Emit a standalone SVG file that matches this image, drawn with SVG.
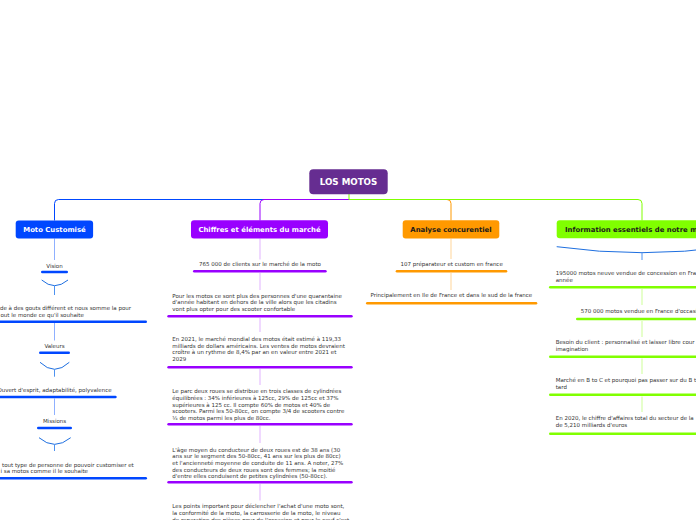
<svg xmlns="http://www.w3.org/2000/svg" width="696" height="520" viewBox="0 0 696 520">
<style>
.t{font-family:"DejaVu Sans",Verdana,sans-serif;font-size:5.5px;fill:#333}
.m{text-anchor:middle}
.h{font-family:"DejaVu Sans",Verdana,sans-serif;font-size:6.9px;font-weight:bold;text-anchor:middle}
.w{fill:#fff}.d{fill:#1a1a1a}
.cb{stroke:#0047ff;fill:none;stroke-width:1}
.cp{stroke:#9900ff;fill:none;stroke-width:1}
.co{stroke:#ff9900;fill:none;stroke-width:1}
.cg{stroke:#80ff00;fill:none;stroke-width:1}
.lb{stroke:#8fb0ff;stroke-width:1}
.lp{stroke:#e6c0ff;stroke-width:1.2}
.lo{stroke:#ffd599;stroke-width:1}
.lg{stroke:#d5ffa8;stroke-width:1.2}
.arc{stroke:#1e6fe0;fill:none;stroke-width:1}
.stub{stroke:#4d92f0;stroke-width:1}
.bb{fill:#0047ff}.bp{fill:#9900ff}.bo{fill:#ff9900}.bg{fill:#80ff00}
</style>
<rect width="696" height="520" fill="#fff"/>
<g id="connectors">
<path class="cb" d="M349,199.5 H58.5 Q54.5,199.5 54.5,203.5 V220.5"/>
<path class="cp" d="M349,199.5 H264 Q260,199.5 260,203.5 V220.5"/>
<path class="co" d="M349,199.5 H447 Q451,199.5 451,203.5 V220.5"/>
<path class="cg" d="M349,199.5 H638 Q642,199.5 642,203.5 V220.5"/>
<line class="cg" x1="349" y1="194" x2="349" y2="199.5"/>
<line class="lb" x1="54.5" y1="238.5" x2="54.5" y2="260"/>
<path class="arc" d="M41.7,280 Q54.5,291.4 68,280"/>
<line class="stub" x1="54.5" y1="285.7" x2="54.5" y2="295"/>
<line class="lb" x1="54.5" y1="323" x2="54.5" y2="340.5"/>
<path class="arc" d="M40,362.3 Q54.5,376.3 69.3,362.3"/>
<line class="stub" x1="54.5" y1="369.3" x2="54.5" y2="376.7"/>
<line class="lb" x1="54.5" y1="398.5" x2="54.5" y2="415"/>
<path class="arc" d="M39,437.7 Q54.5,451 70.7,437.7"/>
<line class="stub" x1="54.5" y1="444.3" x2="54.5" y2="451"/>
<line class="lp" x1="260" y1="238.6" x2="260" y2="259.5"/>
<line class="lp" x1="260" y1="273" x2="260" y2="290"/>
<line class="lp" x1="260" y1="318" x2="260" y2="332"/>
<line class="lp" x1="260" y1="369" x2="260" y2="385"/>
<line class="lp" x1="260" y1="426" x2="260" y2="443"/>
<line class="lp" x1="260" y1="484" x2="260" y2="500.5"/>
<line class="lo" x1="451" y1="238.6" x2="451" y2="259"/>
<line class="lo" x1="451" y1="273" x2="451" y2="290"/>
<path class="arc" d="M556.7,246.7 Q642,258.7 727.3,246.7"/>
<line class="stub" x1="642" y1="252.7" x2="642" y2="260"/>
<line class="lg" x1="642" y1="289" x2="642" y2="305"/>
<line class="lg" x1="642" y1="321" x2="642" y2="337"/>
<line class="lg" x1="642" y1="358.5" x2="642" y2="374"/>
<line class="lg" x1="642" y1="396.5" x2="642" y2="412"/>
</g>
<g id="root">
<rect x="309.3" y="169.2" width="78.4" height="25.1" rx="4" fill="#662d91"/>
<text class="h w" x="348.5" y="184.9" style="font-size:8.7px">LOS MOTOS</text>
</g>
<g id="moto-customise">
<rect x="15.7" y="220.5" width="77.4" height="18" rx="3" fill="#0047ff"/>
<text class="h w" x="54.5" y="232.1">Moto Customisé</text>
</g>
<g id="vision">
<text class="t m" x="54.5" y="267.8">Vision</text>
<rect class="bb" x="41" y="270.7" width="27" height="2.6" rx="1.3"/>
</g>
<g id="vision-text">
<text class="t" x="0" y="310">de à des gouts différent et nous somme la pour</text>
<text class="t" x="0.5" y="316.7">out le monde ce qu'il souhaite</text>
<rect class="bb" x="-39" y="320.4" width="186" height="2.6" rx="1.3"/>
</g>
<g id="valeurs">
<text class="t m" x="54.5" y="347.8">Valeurs</text>
<rect class="bb" x="39" y="351.4" width="31" height="2.6" rx="1.3"/>
</g>
<g id="valeurs-text">
<text class="t m" x="54.5" y="391.9">Ouvert d'esprit, adaptabilité, polyvalence</text>
<rect class="bb" x="-8.7" y="395.7" width="125.4" height="2.6" rx="1.3"/>
</g>
<g id="missions">
<text class="t m" x="54.5" y="422.8">Missions</text>
<rect class="bb" x="37" y="426.7" width="35" height="2.6" rx="1.3"/>
</g>
<g id="missions-text">
<text class="t" x="2" y="466.6">tout type de personne de pouvoir customiser et</text>
<text class="t" x="0.5" y="473.2">i sa motos comme il le souhaite</text>
<rect class="bb" x="-39" y="477" width="186" height="2.6" rx="1.3"/>
</g>
<g id="chiffres">
<rect x="191" y="220.3" width="137" height="18.3" rx="3" fill="#9900ff"/>
<text class="h w" x="259.5" y="232.1">Chiffres et éléments du marché</text>
</g>
<g id="c1">
<text class="t m" x="260" y="266">765 000 de clients sur le marché de la moto</text>
<rect class="bp" x="193" y="270" width="133.7" height="2.6" rx="1.3"/>
</g>
<g id="c2">
<text class="t" x="172.3" y="297.7">Pour les motos ce sont plus des personnes d'une quarantaine</text>
<text class="t" x="172.3" y="304.2">d'année habitant en dehors de la ville alors que les citadins</text>
<text class="t" x="172.3" y="310.7">vont plus opter pour des scooter confortable</text>
<rect class="bp" x="167.3" y="315" width="185.4" height="2.6" rx="1.3"/>
</g>
<g id="c3">
<text class="t" x="172.3" y="341">En 2021, le marché mondial des motos était estimé à 119,33</text>
<text class="t" x="172.3" y="347.6">milliards de dollars américains. Les ventes de motos devraient</text>
<text class="t" x="172.3" y="354.2">croître à un rythme de 8,4% par an en valeur entre 2021 et</text>
<text class="t" x="172.3" y="360.8">2029</text>
<rect class="bp" x="167.3" y="366" width="185.4" height="2.6" rx="1.3"/>
</g>
<g id="c4">
<text class="t" x="172.3" y="393.4">Le parc deux roues se distribue en trois classes de cylindrées</text>
<text class="t" x="172.3" y="400">équilibrées : 34% inférieures à 125cc, 29% de 125cc et 37%</text>
<text class="t" x="172.3" y="406.6">supérieures à 125 cc. Il compte 60% de motos et 40% de</text>
<text class="t" x="172.3" y="413.2">scooters. Parmi les 50-80cc, on compte 3/4 de scooters contre</text>
<text class="t" x="172.3" y="419.8">¼ de motos parmi les plus de 80cc.</text>
<rect class="bp" x="167.3" y="423" width="185.4" height="2.6" rx="1.3"/>
</g>
<g id="c5">
<text class="t" x="172.3" y="451.7">L'âge moyen du conducteur de deux roues est de 38 ans (30</text>
<text class="t" x="172.3" y="458.3">ans sur le segment des 50-80cc, 41 ans sur les plus de 80cc)</text>
<text class="t" x="172.3" y="464.9">et l'ancienneté moyenne de conduite de 11 ans. A noter, 27%</text>
<text class="t" x="172.3" y="471.5">des conducteurs de deux roues sont des femmes; la moitié</text>
<text class="t" x="172.3" y="478.1">d'entre elles conduisent de petites cylindrées (50-80cc).</text>
<rect class="bp" x="167.3" y="481" width="185.4" height="2.6" rx="1.3"/>
</g>
<g id="c6">
<text class="t" x="172.3" y="508.4">Les points important pour déclencher l'achat d'une moto sont,</text>
<text class="t" x="172.3" y="515">la conformité de la moto, la carrosserie de la moto, le niveau</text>
<text class="t" x="172.3" y="521.6">de reparation des pièces pour de l'occasion et pour le neuf c'est</text>
</g>
<g id="analyse">
<rect x="402.7" y="220.3" width="96.6" height="18.3" rx="3" fill="#ff9900"/>
<text class="h d" x="451" y="232.1">Analyse concurentiel</text>
</g>
<g id="a1">
<text class="t m" x="451.7" y="266">107 préparateur et custom en france</text>
<rect class="bo" x="395.7" y="270" width="111.6" height="2.6" rx="1.3"/>
</g>
<g id="a2">
<text class="t m" x="451.3" y="297.4">Principalement en Ile de France et dans le sud de la france</text>
<rect class="bo" x="366" y="302" width="171.3" height="2.6" rx="1.3"/>
</g>
<g id="information">
<rect x="556.7" y="220.3" width="170.6" height="18" rx="3" fill="#80ff00"/>
<text class="h d" x="642" y="232.1">Information essentiels de notre marché</text>
</g>
<g id="i1">
<text class="t" x="555.7" y="275">195000 motos neuve vendue de concession en France</text>
<text class="t" x="555.7" y="281.8">année</text>
<rect class="bg" x="549" y="286" width="186" height="2.6" rx="1.3"/>
</g>
<g id="i2">
<text class="t" x="580.7" y="313.4">570 000 motos vendue en France d'occasion</text>
<rect class="bg" x="576" y="317.7" width="132" height="2.6" rx="1.3"/>
</g>
<g id="i3">
<text class="t" x="555.7" y="344.1">Besoin du client : personnalisé et laisser libre cour</text>
<text class="t" x="555.7" y="351">imagination</text>
<rect class="bg" x="549" y="355.4" width="186" height="2.6" rx="1.3"/>
</g>
<g id="i4">
<text class="t" x="555.7" y="381.7">Marché en B to C et pourquoi pas passer sur du B to</text>
<text class="t" x="555.7" y="388.7">tard</text>
<rect class="bg" x="549" y="393.4" width="186" height="2.6" rx="1.3"/>
</g>
<g id="i5">
<text class="t" x="555.7" y="420.4">En 2020, le chiffre d'affaires total du secteur de la</text>
<text class="t" x="555.7" y="427.4">de 5,210 milliards d'euros</text>
<rect class="bg" x="549" y="432.4" width="186" height="2.6" rx="1.3"/>
</g>
</svg>
